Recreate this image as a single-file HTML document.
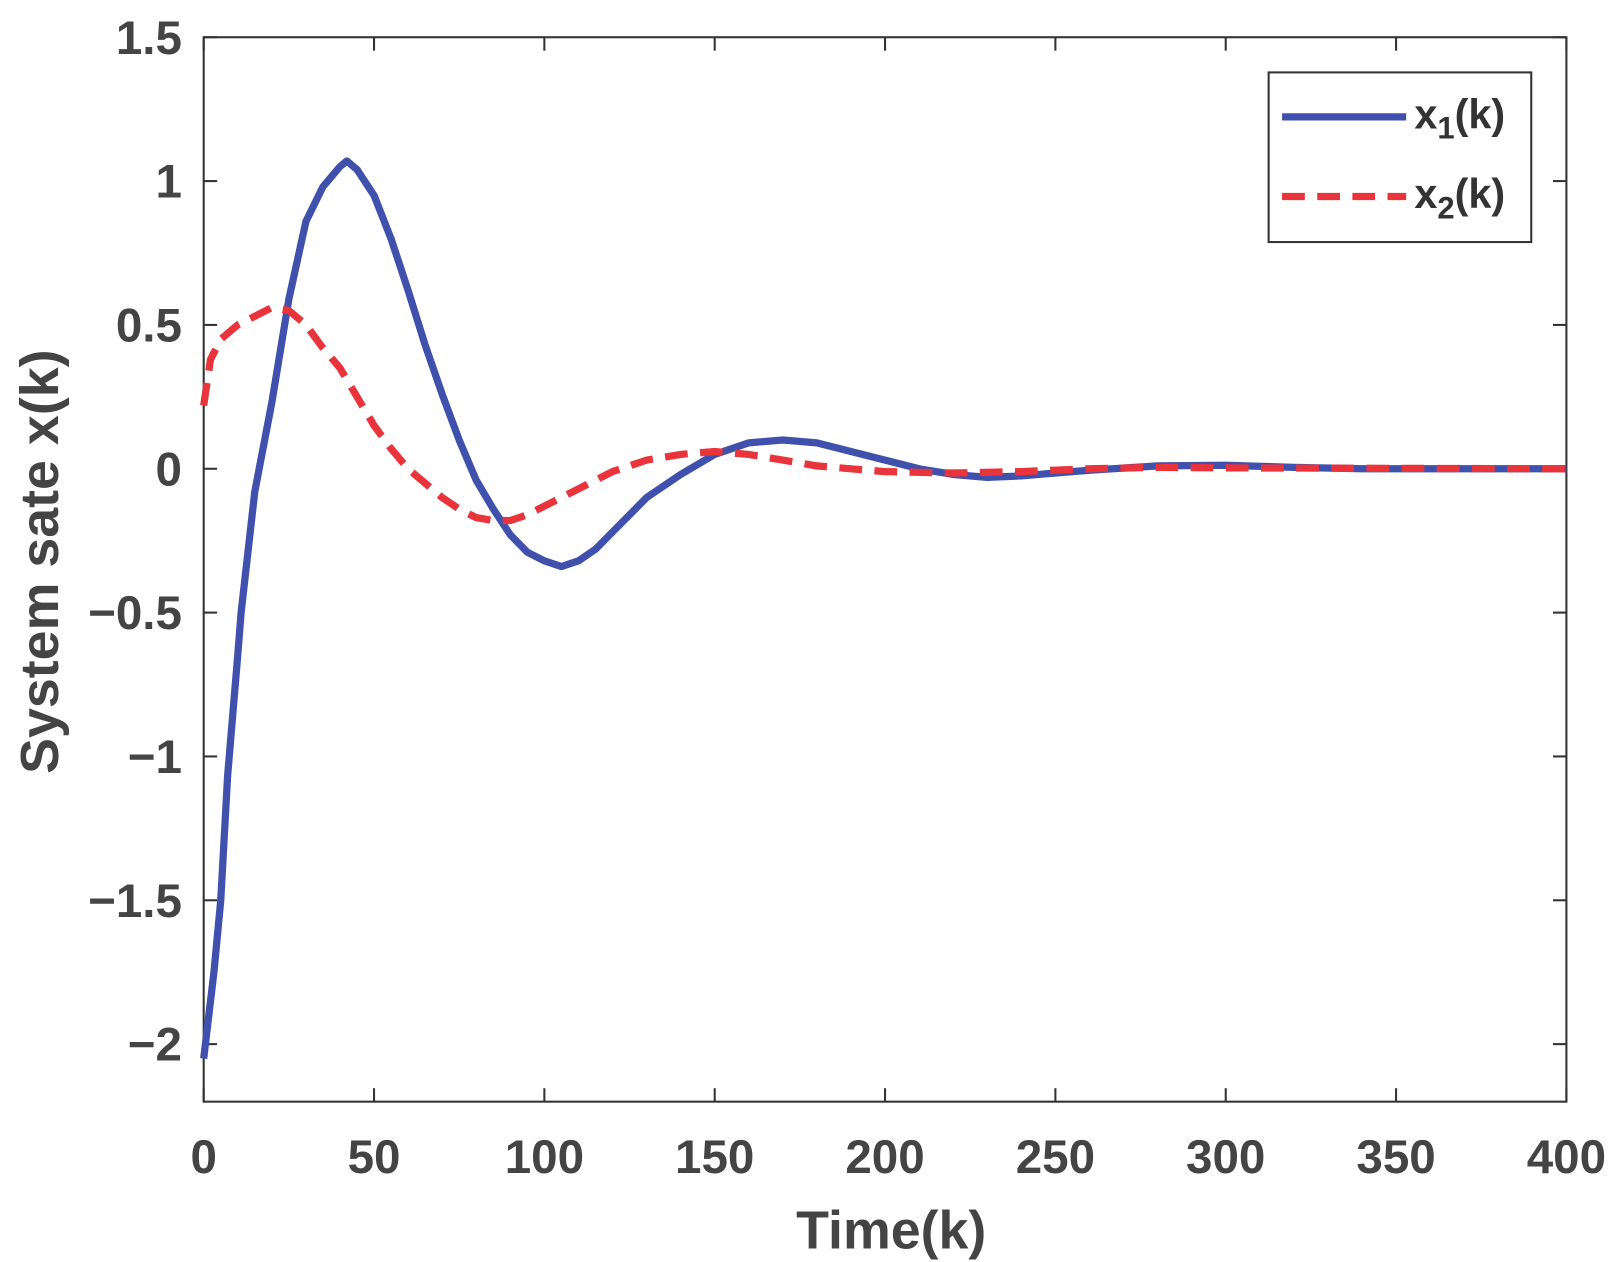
<!DOCTYPE html>
<html><head><meta charset="utf-8">
<style>
html,body{margin:0;padding:0;background:#fff;}
svg{display:block;font-family:"Liberation Sans",Arial,sans-serif;font-weight:bold;}
</style></head>
<body>
<svg id="chart" width="1615" height="1262" viewBox="0 0 1562 1220" preserveAspectRatio="none"></svg>
<script>
const xTicks=[0,50,100,150,200,250,300,350,400];
const yTicks=[1.5,1,0.5,0,-0.5,-1,-1.5,-2];
const yTickLabels=["1.5","1","0.5","0","\u22120.5","\u22121","\u22121.5","\u22122"];
const kX1=[0,3,5,7,10,11,15,20,25,30,35,40,42,45,50,55,60,65,70,75,80,85,90,95,100,105,110,115,120,125,130,140,150,160,170,180,190,200,210,220,230,240,250,260,280,300,320,340,400];
const x1Vals=[-2.05,-1.75,-1.5,-1.07,-0.65,-0.5,-0.08,0.23,0.59,0.86,0.98,1.05,1.07,1.04,0.95,0.8,0.62,0.43,0.26,0.1,-0.04,-0.14,-0.23,-0.29,-0.32,-0.34,-0.32,-0.28,-0.22,-0.16,-0.1,-0.02,0.05,0.09,0.1,0.09,0.06,0.03,0.0,-0.02,-0.03,-0.025,-0.015,-0.005,0.01,0.012,0.005,0,0];
const kX2=[0,2,5,10,15,20,25,30,35,40,45,50,55,60,65,70,75,80,85,90,95,100,110,120,130,140,150,160,170,180,190,200,220,240,260,280,300,400];
const x2Vals=[0.22,0.38,0.45,0.5,0.53,0.56,0.55,0.5,0.42,0.35,0.25,0.15,0.07,0.0,-0.05,-0.1,-0.14,-0.17,-0.18,-0.18,-0.16,-0.13,-0.07,-0.01,0.03,0.05,0.06,0.05,0.03,0.01,0,-0.01,-0.015,-0.01,0,0.005,0.003,0];

const L=197,R=1515,T=36,B=1065;
const xMin=0,xMax=400,yMin=-2.2,yMax=1.5;
const sx=v=>L+(v-xMin)/(xMax-xMin)*(R-L);
const sy=v=>B-(v-yMin)/(yMax-yMin)*(B-T);
const NS="http://www.w3.org/2000/svg";
const svg=document.getElementById('chart');
function mk(tag,attrs){const e=document.createElementNS(NS,tag);for(const k in attrs)e.setAttribute(k,attrs[k]);svg.appendChild(e);return e;}

const frame=mk('rect',{x:L,y:T,width:R-L,height:B-T,fill:'none',stroke:'#333','stroke-width':2});



xTicks.forEach(v=>{
  const x=sx(v);
  const t1=mk('line',{x1:x,x2:x,y1:B,y2:B-13,stroke:'#333','stroke-width':2});
  
  
  const t2=mk('line',{x1:x,x2:x,y1:T,y2:T+13,stroke:'#333','stroke-width':2});
  
  
  const tx=mk('text',{x:x,y:1134,'text-anchor':'middle','font-size':46,fill:'#444'});
  tx.textContent=String(v);
  
  
});
yTicks.forEach((v,i)=>{
  const y=sy(v);
  const t1=mk('line',{x1:L,x2:L+13,y1:y,y2:y,stroke:'#333','stroke-width':2});
  
  
  const t2=mk('line',{x1:R,x2:R-13,y1:y,y2:y,stroke:'#333','stroke-width':2});
  
  
  const tx=mk('text',{x:176,y:y+16,'text-anchor':'end','font-size':46,fill:'#444'});
  tx.textContent=yTickLabels[i];
  
  
});

const xl=mk('text',{x:862,y:1207,'text-anchor':'middle','font-size':52,fill:'#444'});
xl.textContent='Time(k)';


const yl=mk('text',{x:0,y:0,'text-anchor':'middle','font-size':52,fill:'#444'});
yl.setAttribute('transform','translate(56,543) rotate(-90)');
yl.textContent='System sate x(k)';



function pts(ks,vs){return ks.map((k,i)=>sx(k).toFixed(1)+','+sy(vs[i]).toFixed(1)).join(' ');}
const s1=mk('polyline',{points:pts(kX1,x1Vals),fill:'none',stroke:'#3f51ad','stroke-width':7,'stroke-linejoin':'round'});


const s2=mk('polyline',{points:pts(kX2,x2Vals),fill:'none',stroke:'#e8343a','stroke-width':7,'stroke-dasharray':'22 12'});



const lg=mk('rect',{x:1227,y:70,width:254,height:164,fill:'#fff',stroke:'#333','stroke-width':2});


const l1=mk('line',{x1:1240,x2:1360,y1:113,y2:113,stroke:'#3f51ad','stroke-width':7});


const l2=mk('line',{x1:1240,x2:1360,y1:190,y2:190,stroke:'#e8343a','stroke-width':7,'stroke-dasharray':'22 12'});


const lt1=mk('text',{x:1368,y:124,'font-size':40,fill:'#333'});
lt1.innerHTML='x<tspan dy="10" font-size="30">1</tspan><tspan dy="-10">(k)</tspan>';


const lt2=mk('text',{x:1368,y:201,'font-size':40,fill:'#333'});
lt2.innerHTML='x<tspan dy="10" font-size="30">2</tspan><tspan dy="-10">(k)</tspan>';


</script>
</body></html>
